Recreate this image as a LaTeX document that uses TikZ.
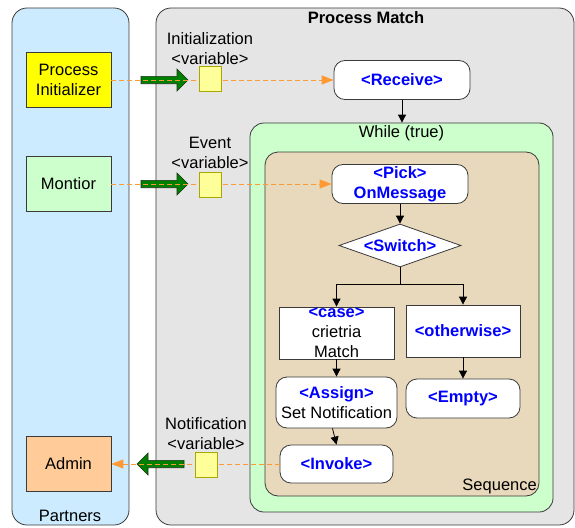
\documentclass[tikz,border=0pt]{standalone}
\usepackage{fontspec}
\setmainfont{Liberation Sans}
\usetikzlibrary{arrows.meta,shapes.geometric}

\definecolor{laneblue}{HTML}{CCEBFF}
\definecolor{lanegray}{HTML}{E5E5E5}
\definecolor{loopgreen}{HTML}{CCFFCC}
\definecolor{seqtan}{HTML}{E8D8BC}
\definecolor{inityellow}{HTML}{FFFF00}
\definecolor{adminorange}{HTML}{FFCC99}
\definecolor{varyellow}{HTML}{FFFF99}
\definecolor{varedge}{HTML}{A8A800}
\definecolor{msgorange}{HTML}{FF9933}
\definecolor{bigarrowgreen}{HTML}{008000}
\definecolor{bigarrowedge}{HTML}{1A331A}
\definecolor{kwblue}{HTML}{0000FF}
\definecolor{edgegray}{HTML}{3A3A3A}

\newcommand{\kw}[1]{\textcolor{kwblue}{\bfseries #1}}

\tikzset{
  every node/.style={font=\fontsize{16.5}{20}\selectfont, inner sep=0pt},
  lane/.style={draw=edgegray, line width=0.8pt, rounded corners=15pt},
  partner/.style={draw=edgegray, line width=0.8pt, align=center,
                  minimum width=85pt, minimum height=55pt},
  activity/.style={draw=edgegray, fill=white, line width=0.8pt,
                   rounded corners=11pt, align=center},
  branchbox/.style={draw=edgegray, fill=white, line width=0.8pt, align=center},
  varbox/.style={draw=varedge, fill=varyellow, line width=0.8pt,
                 minimum width=22pt, minimum height=25pt},
  msgflow/.style={draw=msgorange, line width=1pt, dash pattern=on 5pt off 3pt,
                  -{Triangle[length=12pt,width=9pt,color=msgorange]}},
  ctrl/.style={color=black, line width=0.8pt, -{Triangle[length=8pt,width=8pt]}},
  pics/bigarrow/.style={code={
    \filldraw[fill=bigarrowgreen, draw=bigarrowedge, line width=0.6pt]
      (0,-3.7) -- (36,-3.7) -- (36,-11) -- (47,0) -- (36,11) -- (36,3.7)
      -- (0,3.7) -- cycle;
  }},
}

\begin{document}
\begin{tikzpicture}[x=1pt, y=-1pt]
  \useasboundingbox (0,0) rectangle (575,527);

  % swim lanes
  \node[lane, fill=laneblue, minimum width=117pt, minimum height=517pt]
    (partners) at (70.5,266.5) {};
  \node[lane, fill=lanegray, minimum width=418pt, minimum height=517pt]
    (procmatch) at (365,266.5) {};
  \node (partnerslbl) at (70,516) {Partners};
  \node (procmatchlbl) at (366,18) {\bfseries Process Match};

  % while loop and its sequence
  \node[lane, fill=loopgreen, rounded corners=14pt,
        minimum width=303pt, minimum height=389pt] (loop) at (401.5,317.5) {};
  \node (looplbl) at (401.5,133) {While (true)};
  \node[lane, fill=seqtan, rounded corners=13pt,
        minimum width=274pt, minimum height=344pt] (seq) at (402,324) {};
  \node[anchor=east] (seqlbl) at (537,486) {Sequence};

  % partners
  \node[partner, fill=inityellow] (procinit) at (68.5,80) {Process\\Initializer};
  \node[partner, fill=loopgreen] (montior) at (68.5,184) {Montior};
  \node[partner, fill=adminorange] (admin) at (68.5,464) {Admin};

  % activities
  \node[activity, minimum width=136pt, minimum height=39pt]
    (receive) at (402,80) {\kw{<Receive>}};
  \node[activity, minimum width=136pt, minimum height=39pt]
    (pick) at (400,184) {\kw{<Pick>}\\\kw{OnMessage}};
  \node[diamond, draw=edgegray, fill=white, line width=0.8pt, shape aspect=2.8,
        minimum width=122pt, minimum height=43pt]
    (switch) at (400,245.5) {\kw{<Switch>}};
  \node[branchbox, minimum width=115pt, minimum height=52pt]
    (casebox) at (336.5,333) {\kw{<case>}\\crietria\\Match};
  \node[branchbox, minimum width=114pt, minimum height=52pt]
    (otherwise) at (463,331) {\kw{<otherwise>}};
  \node[activity, minimum width=121pt, minimum height=51pt]
    (assign) at (336.5,402.5) {\kw{<Assign>}\\Set Notification};
  \node[activity, minimum width=114pt, minimum height=39pt]
    (empty) at (463,398.5) {\kw{<Empty>}};
  \node[activity, minimum width=113pt, minimum height=38pt]
    (invoke) at (336.5,464) {\kw{<Invoke>}};

  % control flow
  \draw[ctrl] (receive.south) -- (loop.north -| receive.south);
  \draw[ctrl] (pick.south) -- (switch.north);
  \draw[line width=0.8pt] (switch.south) -- ++(0,17) coordinate (fork);
  \draw[ctrl] (fork) -| (casebox.north);
  \draw[ctrl] (fork) -| (otherwise.north);
  \draw[ctrl] (casebox.south) -- (assign.north);
  \draw[ctrl] (otherwise.south) -- (empty.north);
  \draw[ctrl] ([xshift=-4pt]assign.south) -- (invoke.north);

  % message exchanges with the partners
  \pic at (141,80) {bigarrow};
  \pic at (141,184) {bigarrow};
  \pic[xscale=-1] at (184,464) {bigarrow};

  \draw[msgflow] (procinit.east) -- (receive.west);
  \draw[msgflow] (montior.east) -- (pick.west);
  \draw[msgflow] (invoke.west) -- (admin.east);

  \node[varbox] (initvar) at (210,79) {};
  \node[varbox] (eventvar) at (210,184.5) {};
  \node[varbox] (notifvar) at (206,464.5) {};

  \node[align=center] (initlbl) at (210,49) {Initialization\\<variable>};
  \node[align=center] (eventlbl) at (210,153) {Event\\<variable>};
  \node[align=center] (notiflbl) at (206,434) {Notification\\<variable>};
\end{tikzpicture}
\end{document}
